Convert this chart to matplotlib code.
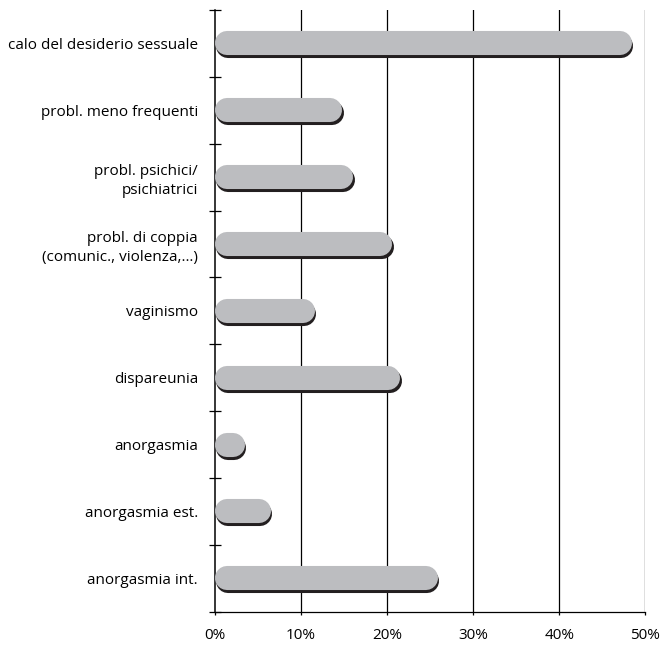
import numpy as np
import matplotlib.pyplot as plt
import matplotlib.patheffects as pe
from matplotlib.ticker import FixedLocator

plt.rcParams["font.family"] = ["Open Sans", "DejaVu Sans"]

categories = [
    "calo del desiderio sessuale",
    "probl. meno frequenti",
    "probl. psichici/\npsichiatrici",
    "probl. di coppia\n(comunic., violenza,\u2026)",
    "vaginismo",
    "dispareunia",
    "anorgasmia",
    "anorgasmia est.",
    "anorgasmia int.",
]
values = [48.4, 14.8, 16.1, 20.6, 11.6, 21.5, 3.5, 6.5, 25.9]
xticks = [0, 10, 20, 30, 40, 50]
xticklabels = ["0%", "10%", "20%", "30%", "40%", "50%"]

BAR_H = 0.36
GREY = "#bcbdc0"
SHADOW = "#231f20"
DPI = 100

fig = plt.figure(figsize=(6.61, 6.46), dpi=DPI)
ax = fig.add_axes([0.3248, 0.0531, 0.6515, 0.9314])

ax.set_xlim(0, 50)
ax.set_ylim(len(categories) - 0.5, -0.5)

# bars as thick lines with round caps: work out cap radius in data units
bbox = ax.get_position()
px_x = bbox.width * 661 / 50.0
px_y = bbox.height * 646 / len(categories)
bar_px = BAR_H * px_y
rx = bar_px / 2 / px_x
lw_pt = bar_px * 72 / DPI

shadow = [pe.SimpleLineShadow(offset=(1.2, -2.2), shadow_color=SHADOW, alpha=1.0), pe.Normal()]
for i, v in enumerate(values):
    ax.plot([rx, v - rx], [i, i], color=GREY, lw=lw_pt, solid_capstyle="round",
            zorder=3, path_effects=shadow)

for x in xticks[1:]:
    ax.axvline(x, color="black", lw=0.9, zorder=1)

for s in ["top", "right"]:
    ax.spines[s].set_visible(False)
ax.spines["left"].set_linewidth(1.1)
ax.spines["bottom"].set_linewidth(0.9)

ax.set_xticks(xticks)
ax.set_xticklabels(xticklabels, fontsize=11)
ax.tick_params(axis="x", length=2, width=0.9, pad=10, color="black")

ax.set_yticks(range(len(categories)))
ax.set_yticklabels(categories, fontsize=11, linespacing=1.35)
ax.tick_params(axis="y", which="major", length=0, pad=12)
ax.yaxis.set_minor_locator(FixedLocator(np.arange(-0.5, len(categories) + 0.5, 1.0)))
ax.tick_params(axis="y", which="minor", direction="inout", length=9, width=0.9)
for lab in ax.get_yticklabels():
    lab.set_horizontalalignment("right")

fig.savefig("out.png", dpi=DPI)
